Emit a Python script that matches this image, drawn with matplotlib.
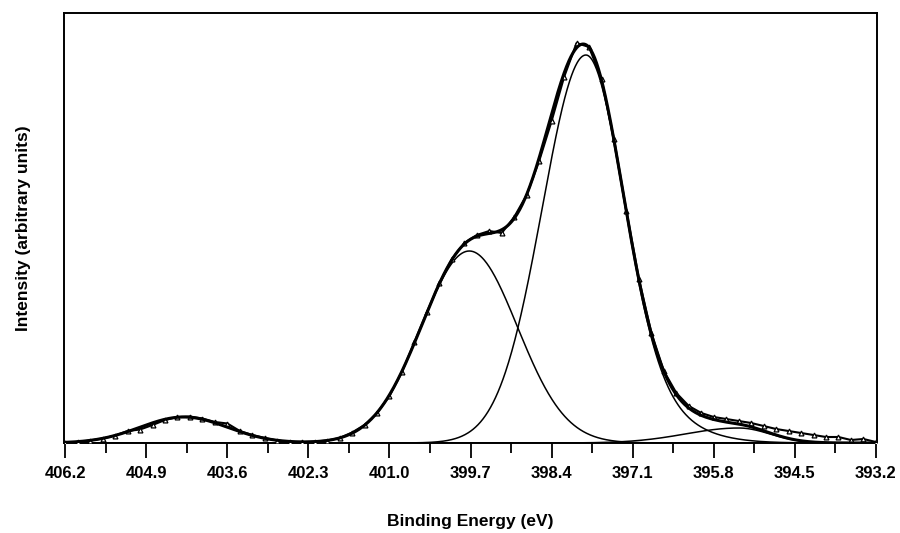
import numpy as np
import matplotlib
matplotlib.use("Agg")
import matplotlib.pyplot as plt
from matplotlib.ticker import FixedLocator

plt.rcParams['font.family'] = ['Liberation Sans', 'DejaVu Sans']

# ---- data ----
tick_labels = ['406.2', '404.9', '403.6', '402.3', '401.0', '399.7',
               '398.4', '397.1', '395.8', '394.5', '393.2']

# measured spectrum (binding energy, eV) and intensity (arbitrary units)
data_energy = [406.2, 406.0, 405.8, 405.6, 405.4, 405.2, 405.0, 404.8, 404.6, 404.4,
               404.2, 404.0, 403.8, 403.6, 403.4, 403.2, 403.0, 402.8, 402.6, 402.4,
               402.2, 402.0, 401.8, 401.6, 401.4, 401.2, 401.0, 400.8, 400.6, 400.4,
               400.2, 400.0, 399.8, 399.6, 399.4, 399.2, 399.0, 398.8, 398.6, 398.4,
               398.2, 398.0, 397.8, 397.6, 397.4, 397.2, 397.0, 396.8, 396.6, 396.4,
               396.2, 396.0, 395.8, 395.6, 395.4, 395.2, 395.0, 394.8, 394.6, 394.4,
               394.2, 394.0, 393.8, 393.6, 393.4, 393.2]
data_intensity = [0.5, 1.0, 2.5, 4.5, 7.5, 12.0, 13.5, 18.0, 23.0, 26.0,
                  26.5, 24.5, 21.0, 19.5, 12.0, 8.0, 5.0, 2.5, 1.2, 0.8,
                  1.5, 2.5, 5.0, 10.5, 18.0, 30.0, 47.0, 71.0, 101.0, 131.0,
                  160.0, 184.0, 200.0, 208.0, 212.0, 210.0, 226.0, 248.0, 282.0, 322.0,
                  366.0, 400.0, 396.0, 364.0, 304.0, 232.0, 164.0, 110.0, 72.0, 50.0,
                  37.0, 30.0, 26.0, 24.0, 22.0, 20.0, 17.0, 14.0, 12.0, 10.0,
                  8.0, 6.0, 6.0, 3.0, 4.0, 1.0]

# fitted components: centre (eV), height, left / right widths (eV), tail fraction & width
peak_center = [404.30, 399.72, 397.85, 395.40]
peak_height = [26.0, 192.0, 388.0, 15.0]
sigma_left = [0.70, 0.77, 0.70, 0.85]
sigma_right = [0.70, 0.77, 0.58, 0.50]
tail_frac = [0.0, 0.0, 0.2, 0.0]
tail_sigma = [1.0, 1.0, 1.0, 1.0]


def component(e, c, h, sl, sr, tf, ts):
    d = e - c
    left = np.exp(-d ** 2 / (2 * sl ** 2))
    right = (1 - tf) * np.exp(-d ** 2 / (2 * sr ** 2)) + tf * np.exp(-d ** 2 / (2 * ts ** 2))
    return h * np.where(d >= 0, left, right)


fig = plt.figure(figsize=(9, 5.33), dpi=100)
ax = fig.add_axes([64 / 900, 90 / 533, 812.5 / 900, 430 / 533])

e = np.linspace(406.2, 393.2, 1301)
comps = [component(e, *p) for p in zip(peak_center, peak_height, sigma_left,
                                        sigma_right, tail_frac, tail_sigma)]
for cy in comps:
    ax.plot(e, cy, color='black', lw=1.1, solid_capstyle='round')
ax.plot(data_energy, data_intensity, color='black', lw=1.5, marker='^',
        markersize=3.5, markerfacecolor='white', markeredgecolor='black',
        markeredgewidth=0.9, zorder=3)
ax.plot(e, np.sum(comps, axis=0), color='black', lw=2.2, zorder=4)

ax.set_xlim(406.22, 393.19)
ax.set_ylim(0, 430)

major = [float(t) for t in tick_labels]
minor = [(a + b) / 2 for a, b in zip(major[:-1], major[1:])]
ax.xaxis.set_major_locator(FixedLocator(major))
ax.xaxis.set_minor_locator(FixedLocator(minor))
ax.set_xticklabels(tick_labels, fontsize=12, fontweight='bold')
ax.tick_params(axis='x', which='major', direction='out', length=10.5, width=1.3, pad=6)
ax.tick_params(axis='x', which='minor', direction='out', length=7, width=1.3)
ax.set_yticks([])

for s in ax.spines.values():
    s.set_linewidth(1.4)

ax.set_xlabel('Binding Energy (eV)', fontsize=12.5, fontweight='bold', labelpad=24)
ax.set_ylabel('Intensity (arbitrary units)', fontsize=12.5, fontweight='bold', labelpad=24)

fig.savefig('out.png', dpi=100)
